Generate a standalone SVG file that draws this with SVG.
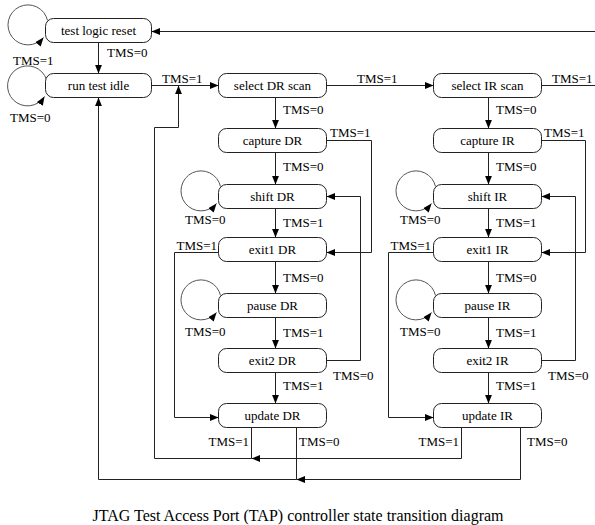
<svg xmlns="http://www.w3.org/2000/svg" width="595" height="525" viewBox="0 0 595 525">
  <style>
    .box { fill: #fff; stroke: #222; stroke-width: 1; }
    .st { font-family: "Liberation Serif", "Times New Roman", serif; font-size: 13px; fill: #000; text-anchor: middle; }
    .lb { font-family: "Liberation Serif", "Times New Roman", serif; font-size: 13px; fill: #000; }
    .lbe { font-family: "Liberation Serif", "Times New Roman", serif; font-size: 13px; fill: #000; text-anchor: end; }
    .cap { font-family: "Liberation Serif", "Times New Roman", serif; font-size: 16px; fill: #000; text-anchor: middle; }
    .ar { fill: none; stroke: #222; stroke-width: 1; marker-end: url(#ah); }
    .lp { fill: none; stroke: #555; stroke-width: 1; marker-end: url(#ah); }
  </style>
  <defs>
    <marker id="ah" viewBox="0 0 10 8" refX="10" refY="4" markerWidth="9" markerHeight="7" orient="auto" markerUnits="userSpaceOnUse">
      <path d="M0,0 L10,4 L0,8 z" fill="#000"/>
    </marker>
  </defs>

  <rect width="595" height="525" fill="#fff"/>

  <!-- connectors -->
  <g id="connectors">
    <!-- reset / idle -->
    <path class="ar" d="M98.5,42.5 V73.5"/>
    <path class="ar" d="M151.5,85.5 H218.5"/>
    <path class="ar" d="M326.5,85.5 H433.5"/>
    <path class="ar" d="M541.5,85.5 H597 V31.5 H151.5"/>

    <!-- self loops -->
    <path class="lp" d="M47.5,20.5 A20,20 0 1 0 43.5,37.5"/>
    <path class="lp" d="M46.5,79.5 A20,20 0 1 0 44.5,96.5"/>
    <path class="lp" d="M220.5,186.5 A20,20 0 1 0 216.5,203.5"/>
    <path class="lp" d="M220.5,295.5 A20,20 0 1 0 216.5,312.5"/>
    <path class="lp" d="M435.5,186.5 A20,20 0 1 0 431.5,203.5"/>
    <path class="lp" d="M435.5,295.5 A20,20 0 1 0 431.5,312.5"/>

    <!-- DR column -->
    <path class="ar" d="M275.5,97.5 V128.5"/>
    <path class="ar" d="M275.5,152.5 V184.5"/>
    <path class="ar" d="M275.5,208.5 V237.5"/>
    <path class="ar" d="M275.5,261.5 V293.5"/>
    <path class="ar" d="M275.5,317.5 V348.5"/>
    <path class="ar" d="M275.5,372.5 V403.5"/>
    <path class="ar" d="M326.5,140.5 H371.5 V252.5 H326.5"/>
    <path class="ar" d="M326.5,360.5 H360.5 V196.5 H326.5"/>
    <path class="ar" d="M218.5,252.5 H174.5 V417.5 H218.5"/>

    <!-- IR column -->
    <path class="ar" d="M488.5,97.5 V128.5"/>
    <path class="ar" d="M488.5,152.5 V184.5"/>
    <path class="ar" d="M488.5,208.5 V237.5"/>
    <path class="ar" d="M488.5,261.5 V293.5"/>
    <path class="ar" d="M488.5,317.5 V348.5"/>
    <path class="ar" d="M488.5,372.5 V403.5"/>
    <path class="ar" d="M541.5,140.5 H585.5 V252.5 H541.5"/>
    <path class="ar" d="M541.5,360.5 H575.5 V196.5 H541.5"/>
    <path class="ar" d="M433.5,252.5 H388.5 V417.5 H433.5"/>

    <!-- update returns -->
    <path class="ar" d="M251.5,427.5 V458.5 H154.5 V127.5 H178.5 V85.5"/>
    <path class="ar" d="M461.5,427.5 V458.5 H251.5"/>
    <path class="ar" d="M296.5,427.5 V479.5 H98.5 V97.5"/>
    <path class="ar" d="M520.5,427.5 V479.5 H296.5"/>
  </g>

  <!-- transition labels -->
  <g id="labels">
    <text class="lb" x="107" y="57">TMS=0</text>
    <text class="lb" x="13" y="65">TMS=1</text>
    <text class="lb" x="10" y="122">TMS=0</text>
    <text class="lb" x="162" y="83">TMS=1</text>
    <text class="lb" x="357" y="83">TMS=1</text>
    <text class="lb" x="552" y="83">TMS=1</text>

    <text class="lb" x="283" y="114">TMS=0</text>
    <text class="lb" x="283" y="170.5">TMS=0</text>
    <text class="lb" x="283" y="227">TMS=1</text>
    <text class="lb" x="283" y="282">TMS=0</text>
    <text class="lb" x="283" y="337">TMS=1</text>
    <text class="lb" x="283" y="389.5">TMS=1</text>
    <text class="lb" x="330" y="137">TMS=1</text>
    <text class="lb" x="333" y="380">TMS=0</text>
    <text class="lbe" x="217" y="249.5">TMS=1</text>
    <text class="lb" x="185" y="223.5">TMS=0</text>
    <text class="lb" x="185" y="336">TMS=0</text>

    <text class="lb" x="496" y="114">TMS=0</text>
    <text class="lb" x="496" y="170.5">TMS=0</text>
    <text class="lb" x="496" y="227">TMS=1</text>
    <text class="lb" x="496" y="282">TMS=0</text>
    <text class="lb" x="496" y="337">TMS=1</text>
    <text class="lb" x="496" y="389.5">TMS=1</text>
    <text class="lb" x="544" y="137">TMS=1</text>
    <text class="lb" x="548" y="380">TMS=0</text>
    <text class="lbe" x="431" y="249.5">TMS=1</text>
    <text class="lb" x="400" y="223.5">TMS=0</text>
    <text class="lb" x="400" y="336">TMS=0</text>

    <text class="lbe" x="249" y="445.5">TMS=1</text>
    <text class="lb" x="299" y="445.5">TMS=0</text>
    <text class="lbe" x="459" y="445.5">TMS=1</text>
    <text class="lb" x="527" y="445.5">TMS=0</text>
  </g>

  <!-- states -->
  <g id="test-logic-reset"><rect class="box" x="45.5" y="18.5" width="106" height="24" rx="8"/><text class="st" x="98.5" y="35">test logic reset</text></g>
  <g id="run-test-idle"><rect class="box" x="45.5" y="73.5" width="106" height="24" rx="8"/><text class="st" x="98.5" y="90">run test idle</text></g>

  <g id="select-dr-scan"><rect class="box" x="218.5" y="73.5" width="108" height="24" rx="8"/><text class="st" x="272.5" y="90">select DR scan</text></g>
  <g id="capture-dr"><rect class="box" x="218.5" y="128.5" width="108" height="24" rx="8"/><text class="st" x="272.5" y="145">capture DR</text></g>
  <g id="shift-dr"><rect class="box" x="218.5" y="184.5" width="108" height="24" rx="8"/><text class="st" x="272.5" y="201">shift DR</text></g>
  <g id="exit1-dr"><rect class="box" x="218.5" y="237.5" width="108" height="24" rx="8"/><text class="st" x="272.5" y="254">exit1 DR</text></g>
  <g id="pause-dr"><rect class="box" x="218.5" y="293.5" width="108" height="24" rx="8"/><text class="st" x="272.5" y="310">pause DR</text></g>
  <g id="exit2-dr"><rect class="box" x="218.5" y="348.5" width="108" height="24" rx="8"/><text class="st" x="272.5" y="365">exit2 DR</text></g>
  <g id="update-dr"><rect class="box" x="218.5" y="403.5" width="108" height="24" rx="8"/><text class="st" x="272.5" y="420">update DR</text></g>

  <g id="select-ir-scan"><rect class="box" x="433.5" y="73.5" width="108" height="24" rx="8"/><text class="st" x="487.5" y="90">select IR scan</text></g>
  <g id="capture-ir"><rect class="box" x="433.5" y="128.5" width="108" height="24" rx="8"/><text class="st" x="487.5" y="145">capture IR</text></g>
  <g id="shift-ir"><rect class="box" x="433.5" y="184.5" width="108" height="24" rx="8"/><text class="st" x="487.5" y="201">shift IR</text></g>
  <g id="exit1-ir"><rect class="box" x="433.5" y="237.5" width="108" height="24" rx="8"/><text class="st" x="487.5" y="254">exit1 IR</text></g>
  <g id="pause-ir"><rect class="box" x="433.5" y="293.5" width="108" height="24" rx="8"/><text class="st" x="487.5" y="310">pause IR</text></g>
  <g id="exit2-ir"><rect class="box" x="433.5" y="348.5" width="108" height="24" rx="8"/><text class="st" x="487.5" y="365">exit2 IR</text></g>
  <g id="update-ir"><rect class="box" x="433.5" y="403.5" width="108" height="24" rx="8"/><text class="st" x="487.5" y="420">update IR</text></g>

  <text class="cap" x="298" y="521">JTAG Test Access Port (TAP) controller state transition diagram</text>
</svg>
